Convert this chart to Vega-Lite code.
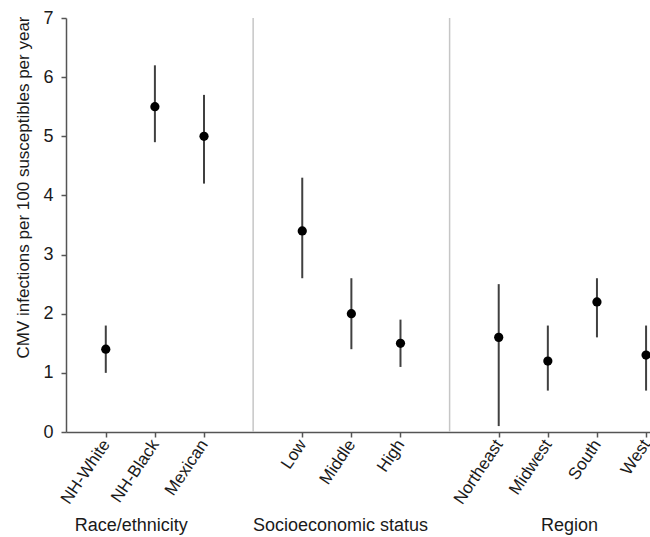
{
  "$schema": "https://vega.github.io/schema/vega-lite/v6.json",
  "width": 584,
  "height": 414,
  "autosize": "none",
  "padding": {"left": 66, "top": 18, "right": 0, "bottom": 105},
  "background": "white",
  "config": {"view": {"stroke": null}, "font": "Liberation Sans"},
  "datasets": {
    "est": [
      {"group": "Race/ethnicity", "category": "NH-White", "pos": 1, "rate": 1.4, "lo": 1.0, "hi": 1.8},
      {"group": "Race/ethnicity", "category": "NH-Black", "pos": 2, "rate": 5.5, "lo": 4.9, "hi": 6.2},
      {"group": "Race/ethnicity", "category": "Mexican", "pos": 3, "rate": 5.0, "lo": 4.2, "hi": 5.7},
      {"group": "Socioeconomic status", "category": "Low", "pos": 5, "rate": 3.4, "lo": 2.6, "hi": 4.3},
      {"group": "Socioeconomic status", "category": "Middle", "pos": 6, "rate": 2.0, "lo": 1.4, "hi": 2.6},
      {"group": "Socioeconomic status", "category": "High", "pos": 7, "rate": 1.5, "lo": 1.1, "hi": 1.9},
      {"group": "Region", "category": "Northeast", "pos": 9, "rate": 1.6, "lo": 0.1, "hi": 2.5},
      {"group": "Region", "category": "Midwest", "pos": 10, "rate": 1.2, "lo": 0.7, "hi": 1.8},
      {"group": "Region", "category": "South", "pos": 11, "rate": 2.2, "lo": 1.6, "hi": 2.6},
      {"group": "Region", "category": "West", "pos": 12, "rate": 1.3, "lo": 0.7, "hi": 1.8}
    ],
    "sep": [{"pos": 4}, {"pos": 8}],
    "groups": [
      {"group": "Race/ethnicity", "pos": 1.52},
      {"group": "Socioeconomic status", "pos": 5.78},
      {"group": "Region", "pos": 10.44}
    ]
  },
  "layer": [
    {
      "data": {"name": "est"},
      "mark": {"type": "rule", "color": "#404040", "strokeWidth": 2},
      "encoding": {
        "x": {
          "field": "pos", "type": "quantitative",
          "scale": {"domain": [0.19, 12.08], "nice": false, "zero": false},
          "axis": {
            "title": null,
            "values": [1, 2, 3, 5, 6, 7, 9, 10, 11, 12],
            "labelExpr": "datum.value == 1 ? 'NH-White' : datum.value == 2 ? 'NH-Black' : datum.value == 3 ? 'Mexican' : datum.value == 5 ? 'Low' : datum.value == 6 ? 'Middle' : datum.value == 7 ? 'High' : datum.value == 9 ? 'Northeast' : datum.value == 10 ? 'Midwest' : datum.value == 11 ? 'South' : 'West'",
            "labelAngle": -56,
            "labelAlign": "right",
            "labelBaseline": "middle",
            "labelFontSize": 17,
            "labelColor": "#1a1a1a",
            "labelPadding": 4,
            "labelOverlap": false,
            "labelFlush": false,
            "tickSize": 5,
            "tickColor": "#555555",
            "tickWidth": 1.5,
            "domainColor": "#555555",
            "domainWidth": 1.5,
            "grid": false
          }
        },
        "y": {
          "field": "lo", "type": "quantitative",
          "scale": {"domain": [0, 7], "nice": false, "zero": true},
          "axis": {
            "title": "CMV infections per 100 susceptibles per year",
            "values": [0, 1, 2, 3, 4, 5, 6, 7],
            "format": "d",
            "labelFontSize": 18,
            "labelColor": "#1a1a1a",
            "labelPadding": 8,
            "tickSize": 5,
            "tickColor": "#555555",
            "tickWidth": 1.5,
            "domainColor": "#555555",
            "domainWidth": 1.5,
            "grid": false,
            "titleFontSize": 17,
            "titleFontWeight": "normal",
            "titleColor": "#1a1a1a",
            "titlePadding": 10,
            "titleY": 169
          }
        },
        "y2": {"field": "hi"}
      }
    },
    {
      "data": {"name": "sep"},
      "mark": {"type": "rule", "color": "#c6c6c6", "strokeWidth": 1.5},
      "encoding": {
        "x": {"field": "pos", "type": "quantitative"},
        "y": {"datum": 0, "type": "quantitative"},
        "y2": {"datum": 7}
      }
    },
    {
      "data": {"name": "est"},
      "mark": {"type": "point", "filled": true, "color": "#000000", "size": 85, "opacity": 1},
      "encoding": {
        "x": {"field": "pos", "type": "quantitative"},
        "y": {"field": "rate", "type": "quantitative"}
      }
    },
    {
      "data": {"name": "groups"},
      "mark": {"type": "text", "fontSize": 18, "color": "#1a1a1a", "align": "center", "baseline": "alphabetic"},
      "encoding": {
        "x": {"field": "pos", "type": "quantitative"},
        "y": {"datum": -1.67, "type": "quantitative"},
        "text": {"field": "group"}
      }
    }
  ]
}
